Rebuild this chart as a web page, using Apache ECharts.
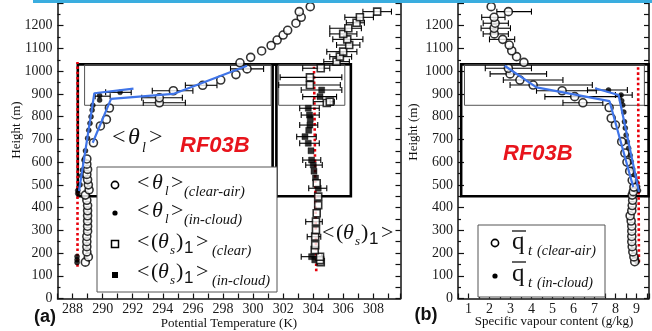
<!DOCTYPE html>
<html><head><meta charset="utf-8">
<script src="https://cdn.jsdelivr.net/npm/echarts@6/dist/echarts.min.js"></script>
<style>html,body{margin:0;padding:0;background:#fff}#c{width:652px;height:331px}</style>
</head><body><div id="c"></div><script>
// ---------- data (panel a: potential temperature, K; height, m) ----------
const thlClearH = [160,183,205,228,250,273,296,318,341,364,386,409,432,455,478,500,523,546,568,591,614,685,759,788,838,861,883,914,938,961,985,1010,1037,1061,1089,1113,1137,1159,1180,1211,1237,1262,1284];
const thlClearT = [288.85,289.05,288.95,288.95,288.95,288.95,289.0,289.0,289.0,289.0,289.0,289.0,288.95,288.85,289.1,289.05,289.0,288.95,289.0,288.95,288.95,289.39,289.85,290.25,290.45,293.77,293.77,294.7,296.65,297.85,298.86,299.6,299.13,299.84,300.57,301.2,301.6,302.0,302.3,302.85,303.2,303.07,303.8];
const thlCloudH = [158,170,185,462,475,500,540,565,609,650,705,740,771,800,829,850,873,893,907];
const thlCloudT = [288.3,288.3,288.3,288.35,288.35,288.5,288.6,288.66,288.76,288.86,289.0,289.08,289.16,289.23,289.3,289.35,289.8,289.8,291.16];
const thsClearH = [160,169,184,213,235,272,301,338,375,411,448,507,860,866,939,973,1013,1042,1064,1086,1115,1140,1164,1189,1213,1237,1262];
const thsClearT = [304.5,304.45,304.45,304.1,304.13,304.13,304.18,304.18,304.23,304.33,304.33,304.23,304.9,305.1,303.78,303.78,304.5,305.55,305.77,305.99,306.39,306.26,305.99,306.33,306.88,307.1,308.25];
const thsCloudH = [170,184,485,530,560,587,609,650,683,712,740,763,790,807,837,888,917];
const thsCloudT = [304.1,303.89,304.33,304.15,304.05,304.0,303.89,303.85,303.67,303.45,303.7,303.78,303.8,303.75,303.67,304.45,304.56];
const thlClearErrH = [861,883,914,938,1010];
const thlClearErrLo = [292.7,292.6,293.3,295.5,298.5];
const thlClearErrHi = [295.5,295.3,296.0,297.6,300.7];
const thlCloudErrH = [907,890];
const thlCloudErrLo = [290.2,289.5];
const thlCloudErrHi = [291.9,290.5];
const thsErrH = [1262,1237,1213,1189,1164,1140,1115,1086,1064,1042,1013,973,939,917,888,866,837,807,763,712,683,609,587,485,338,272,184];
const thsErrLo = [307.3,306.1,306.2,305.1,305.1,305.3,305.55,304.9,305.1,304.7,303.3,301.8,301.7,303.2,303.3,304.0,303.1,303.2,303.1,302.9,303.1,303.3,303.5,303.7,303.5,303.6,303.2];
const thsErrHi = [309.2,308.0,307.4,307.2,306.9,307.3,307.1,306.9,306.55,306.4,305.1,305.9,305.8,305.9,305.55,305.4,304.4,304.4,304.3,304.2,304.4,304.5,304.6,304.9,304.6,304.5,304.55];
const blueA1T = [288.43,289.45,292.05];
const blueA1H = [473,903,923];
const blueA2T = [289.34,290.56,294.7,299.6];
const blueA2H = [685,878,900,1024];
const redA1T = [288.33,288.33];
const redA1H = [140,1040];
const redA2T = [304.2,304.05];
const redA2H = [120,1020];
const thickBoxesA = [[288.35,450,301.55,1030],[301.3,450,306.5,1030]];
const thinBoxesA = [[288.8,850,301.2,1028],[301.7,850,306.1,1028]];
// ---------- data (panel b: specific vapour content, g/kg) ----------
const qClearH = [162,183,205,228,250,273,296,318,341,364,386,409,432,455,470,490,520,560,600,640,690,763,793,840,861,888,914,939,961,988,1013,1039,1064,1090,1115,1140,1164,1189,1211,1237,1262,1284];
const qClearV = [8.92,8.88,8.83,8.8,8.78,8.78,8.78,8.78,8.75,8.7,8.78,8.8,8.82,8.8,8.85,8.88,8.8,8.68,8.55,8.45,8.3,8.0,7.8,7.7,6.45,6.06,5.46,4.08,3.45,2.98,2.9,3.64,3.29,3.06,2.94,2.63,2.23,2.22,2.27,2.22,2.9,2.08];
const qCloudH = [162,175,475,492,515,543,570,602,630,661,690,719,750,778,820,851,870,895,917];
const qCloudV = [9.03,9.0,9.1,9.06,8.98,8.9,8.82,8.75,8.7,8.63,8.56,8.51,8.47,8.43,8.4,8.35,8.3,8.27,7.67];
const qErrH = [1262,1237,1211,1189,1164,1140,1013,988,961,939,914,888,861,917,895];
const qErrLo = [2.35,1.63,1.7,1.6,1.7,2.0,1.8,2.03,2.66,2.98,4.24,4.64,5.5,6.67,8.0];
const qErrHi = [4.0,2.74,2.9,3.0,2.9,3.2,4.0,4.72,5.5,6.9,7.09,8.27,7.4,8.57,8.8];
const blueB1Q = [2.72,4.24,7.72,8.85];
const blueB1H = [1024,929,868,490];
const blueB2Q = [7.03,8.15,9.12];
const blueB2H = [925,895,470];
const redBQ = [9.12,9.08];
const redBH = [160,1020];
const thickBoxesB = [[0.65,450,9.58,1030]];
const thinBoxesB = [[0.81,850,9.38,1028]];

// ---------- chart ----------
const chart = echarts.init(document.getElementById('c'));
const serif = '"Liberation Serif","DejaVu Serif",serif';
const sans = '"Liberation Sans","DejaVu Sans",sans-serif';
const pairs = (xs, ys) => xs.map((x, i) => [x, ys[i]]);
const errs = (h, lo, hi) => h.map((y, i) => [lo[i], hi[i], y]);
const errRender = (params, api) => {
  const y = api.value(2);
  const a = api.coord([api.value(0), y]), b = api.coord([api.value(1), y]);
  const st = {stroke: '#000', lineWidth: 1.1};
  return {type: 'group', children: [
    {type: 'line', shape: {x1: a[0], y1: a[1], x2: b[0], y2: b[1]}, style: st},
    {type: 'line', shape: {x1: a[0], y1: a[1] - 3, x2: a[0], y2: a[1] + 3}, style: st},
    {type: 'line', shape: {x1: b[0], y1: b[1] - 3, x2: b[0], y2: b[1] + 3}, style: st}
  ]};
};
const boxData = (thick, thin) => thick.map(b => [
  {coord: [b[0], b[1]], itemStyle: {color: 'rgba(0,0,0,0)', borderColor: '#000', borderWidth: 2.6}},
  {coord: [b[2], b[3]]}
]).concat(thin.map(b => [
  {coord: [b[0], b[1]], itemStyle: {color: 'rgba(0,0,0,0)', borderColor: '#555', borderWidth: 1}},
  {coord: [b[2], b[3]]}
]));

const axisLine = {show: true, lineStyle: {color: '#111', width: 1.5}};
const labelFont = {fontFamily: serif, fontSize: 14, color: '#1a1a1a'};
function xAx(grid, min, max, interval, fmt) {
  return {type: 'value', gridIndex: grid, min, max, interval, axisLine,
    axisTick: {show: true, inside: true, length: 5, lineStyle: {color: '#111', width: 1.2}},
    axisLabel: Object.assign({margin: 4, formatter: fmt, showMaxLabel: true}, labelFont),
    splitLine: {show: false}};
}
function yAx(grid, right) {
  return {type: 'value', gridIndex: grid, position: right ? 'right' : 'left', min: 0, max: 1300,
    interval: right ? 50 : 100, axisLine,
    axisTick: {show: true, inside: true, length: right ? 5 : 6, lineStyle: {color: '#111', width: 1.2}},
    minorTick: {show: !right, splitNumber: 2, length: 3, lineStyle: {color: '#111', width: 1.2}},
    axisLabel: Object.assign({show: !right, margin: 5, formatter: v => v >= 1300 ? '' : String(v)}, labelFont),
    splitLine: {show: false}};
}
const scat = (xi, data, symbol, size, filled) => ({
  type: 'scatter', xAxisIndex: xi, yAxisIndex: xi * 2, data, symbol, symbolSize: size, z: 4,
  itemStyle: filled ? {color: '#000', borderColor: '#000', borderWidth: 0.5}
                    : {color: '#fff', borderColor: '#000', borderWidth: 1.6},
  emphasis: {disabled: true}, silent: true
});
const line = (xi, data, color, width, type, z) => ({
  type: 'line', xAxisIndex: xi, yAxisIndex: xi * 2, data, symbol: 'none', z,
  lineStyle: {color, width, type}, silent: true, animation: false
});
const err = (xi, data) => ({
  type: 'custom', xAxisIndex: xi, yAxisIndex: xi * 2, data, renderItem: errRender, z: 3,
  encode: {x: [0, 1], y: 2}, silent: true
});

const T = (s, x, y, size, o = {}) => ({type: 'text', x, y, z: 100, rotation: o.rot || 0,
  style: {text: s, fontFamily: o.fam || serif, fontSize: size, fontStyle: o.it ? 'italic' : 'normal',
    fontWeight: o.bold ? 'bold' : 'normal', fill: o.fill || '#111',
    align: o.align || 'left', textAlign: o.align || 'left', verticalAlign: 'middle', textVerticalAlign: 'middle'}});

const graphics = [
  {type: 'rect', z: 100, shape: {x: 33, y: 0, width: 619, height: 3}, style: {fill: '#3aaddf'}},
  // panel a legend
  {type: 'rect', z: 99, shape: {x: 97, y: 167, width: 180, height: 125}, style: {fill: '#fff', stroke: '#555', lineWidth: 1}},
  {type: 'circle', z: 100, shape: {cx: 115, cy: 185, r: 3.6}, style: {fill: '#fff', stroke: '#000', lineWidth: 1.6}},
  {type: 'circle', z: 100, shape: {cx: 115, cy: 213, r: 2.6}, style: {fill: '#000'}},
  {type: 'rect', z: 100, shape: {x: 111.5, y: 240.5, width: 7, height: 7}, style: {fill: '#fff', stroke: '#000', lineWidth: 1.5}},
  {type: 'rect', z: 100, shape: {x: 112, y: 272, width: 6, height: 6}, style: {fill: '#000'}},
  T('<', 137, 183, 22), T('θ', 152, 183, 22, {it: 1}), T('l', 165, 192, 13, {it: 1}), T('>', 171, 183, 22),
  T('(clear-air)', 184, 192, 14.5, {it: 1}),
  T('<', 137, 211, 22), T('θ', 152, 211, 22, {it: 1}), T('l', 165, 220, 13, {it: 1}), T('>', 171, 211, 22),
  T('(in-cloud)', 184, 220, 14.5, {it: 1}),
  T('<', 137, 242, 22), T('(', 151, 242, 22), T('θ', 158, 242, 22, {it: 1}), T('s', 170, 251, 13, {it: 1}),
  T(')', 176, 242, 22), T('1', 184, 248, 17, {fam: sans}), T('>', 196, 242, 22), T('(clear)', 212, 251, 14.5, {it: 1}),
  T('<', 137, 272, 22), T('(', 151, 272, 22), T('θ', 158, 272, 22, {it: 1}), T('s', 170, 281, 13, {it: 1}),
  T(')', 176, 272, 22), T('1', 184, 278, 17, {fam: sans}), T('>', 196, 272, 22), T('(in-cloud)', 212, 281, 14.5, {it: 1}),
  // in-plot labels panel a
  T('<', 112, 138, 24), T('θ', 128, 138, 24, {it: 1}), T('l', 142, 148, 14, {it: 1}), T('>', 149, 138, 24),
  T('RF03B', 180, 146, 22, {fam: sans, bold: 1, it: 1, fill: '#e8141c'}),
  T('<', 322, 233, 22), T('(', 336, 233, 22), T('θ', 343, 233, 22, {it: 1}), T('s', 355, 242, 13, {it: 1}),
  T(')', 361, 233, 22), T('1', 369, 239, 17, {fam: sans}), T('>', 381, 233, 22),
  // panel b legend
  {type: 'rect', z: 99, shape: {x: 478, y: 225, width: 127, height: 72}, style: {fill: '#fff', stroke: '#555', lineWidth: 1}},
  {type: 'circle', z: 100, shape: {cx: 495, cy: 243, r: 3.6}, style: {fill: '#fff', stroke: '#000', lineWidth: 1.6}},
  {type: 'circle', z: 100, shape: {cx: 495, cy: 276, r: 2.6}, style: {fill: '#000'}},
  T('q', 512, 242, 25), {type: 'line', z: 100, shape: {x1: 512, y1: 231, x2: 526, y2: 231}, style: {stroke: '#111', lineWidth: 1.3}},
  T('t', 528, 251, 15, {it: 1}), T('(clear-air)', 537, 251, 14, {it: 1}),
  T('q', 512, 274, 25), {type: 'line', z: 100, shape: {x1: 512, y1: 262, x2: 526, y2: 262}, style: {stroke: '#111', lineWidth: 1.3}},
  T('t', 528, 283, 15, {it: 1}), T('(in-cloud)', 537, 283, 14, {it: 1}),
  T('RF03B', 503, 154, 22, {fam: sans, bold: 1, it: 1, fill: '#e8141c'}),
  // axis titles and panel tags
  T('Height (m)', 17, 130, 13, {align: 'center', rot: Math.PI / 2}),
  T('Height (m)', 414, 132, 13, {align: 'center', rot: Math.PI / 2}),
  T('Potential Temperature (K)', 229, 324, 13, {align: 'center'}),
  T('Specific vapour content (g/kg)', 554, 322, 13, {align: 'center'}),
  T('(a)', 45, 317, 18, {fam: sans, bold: 1, align: 'center'}),
  T('(b)', 426, 315, 18, {fam: sans, bold: 1, align: 'center'})
];

const option = {
  animation: false,
  backgroundColor: '#fff',
  grid: [
    {left: 57.5, top: 3, width: 343, height: 295.5},
    {left: 458, top: 3, width: 192, height: 295.5}
  ],
  xAxis: [
    xAx(0, 287, 309.8, 1, v => (v % 2 === 0 && v >= 288 && v <= 308) ? String(v) : ''),
    xAx(1, 0.5, 9.6, 0.5, v => (Number.isInteger(v) && v >= 1 && v <= 9) ? String(v) : '')
  ],
  yAxis: [yAx(0, false), yAx(0, true), yAx(1, false), yAx(1, true)],
  series: [
    Object.assign(line(0, pairs(redA1T, redA1H), '#e8000b', 2.6, 'dotted', 2), {
      markArea: {silent: true, label: {show: false}, data: boxData(thickBoxesA, thinBoxesA)}}),
    line(0, pairs(redA2T, redA2H), '#e8000b', 2.6, 'dotted', 2),
    err(0, errs(thlClearErrH, thlClearErrLo, thlClearErrHi)),
    err(0, errs(thlCloudErrH, thlCloudErrLo, thlCloudErrHi)),
    err(0, errs(thsErrH, thsErrLo, thsErrHi)),
    scat(0, pairs(thlCloudT, thlCloudH), 'circle', 5, true),
    scat(0, pairs(thsCloudT, thsCloudH), 'rect', 6, true),
    scat(0, pairs(thsClearT, thsClearH), 'rect', 7, false),
    scat(0, pairs(thlClearT, thlClearH), 'circle', 8, false),
    line(0, pairs(blueA1T, blueA1H), '#3f74e8', 2.2, 'solid', 6),
    line(0, pairs(blueA2T, blueA2H), '#3f74e8', 2.2, 'solid', 6),
    Object.assign(line(1, pairs(redBQ, redBH), '#e8000b', 2.6, 'dotted', 2), {
      markArea: {silent: true, label: {show: false}, data: boxData(thickBoxesB, thinBoxesB)}}),
    err(1, errs(qErrH, qErrLo, qErrHi)),
    scat(1, pairs(qCloudV, qCloudH), 'circle', 5, true),
    scat(1, pairs(qClearV, qClearH), 'circle', 8, false),
    line(1, pairs(blueB1Q, blueB1H), '#3f74e8', 2.2, 'solid', 6),
    line(1, pairs(blueB2Q, blueB2H), '#3f74e8', 2.2, 'solid', 6)
  ],
  graphic: {elements: graphics}
};
chart.setOption(option);
</script></body></html>
